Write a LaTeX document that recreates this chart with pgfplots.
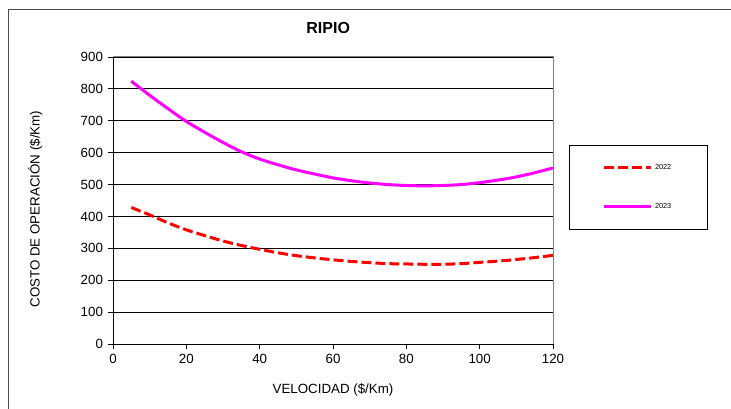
\documentclass[border=0pt]{standalone}
\usepackage{pgfplots}
\pgfplotsset{compat=1.18}
\usepackage{fontspec}
\setmainfont{Liberation Sans}
\definecolor{mag}{RGB}{255,0,255}
\definecolor{rd}{RGB}{255,0,0}
\begin{document}
\begin{tikzpicture}
\path[use as bounding box] (0pt,0pt) rectangle (548.25pt,-306.75pt);
\draw[black!70, line width=0.75pt] (6pt,-400pt) -- (6pt,-7.5pt) -- (600pt,-7.5pt);
\begin{axis}[
  at={(84.75pt,-258pt)}, anchor=south west,
  scale only axis, width=330pt, height=215.25pt,
  xmin=0, xmax=120, ymin=0, ymax=900,
  xtick={0,20,...,120}, ytick={0,100,...,900},
  ymajorgrids, grid style={black, line width=0.6pt},
  axis line style={black!50, line width=0.75pt},
  axis x line*=bottom, axis y line*=left,
  tick style={black, line width=0.6pt},
  tick align=outside, major tick length=4pt,
  xtick pos=bottom, ytick pos=left,
  /pgf/number format/assume math mode=true,
  ticklabel style={font=\fontsize{10}{12}\selectfont},
  every axis title shift=0pt,
  title={RIPIO}, title style={font=\fontsize{12}{14}\selectfont\bfseries, at={(axis description cs:0.489,1.101)}, anchor=center},
  xlabel={VELOCIDAD (\$/Km)}, xlabel style={font=\fontsize{10}{12}\selectfont, at={(axis description cs:0.5,-0.16)}, anchor=center},
  ylabel={COSTO DE OPERACIÓN (\$/Km)}, ylabel style={font=\fontsize{10}{12}\selectfont, at={(axis description cs:-0.177,0.47)}, anchor=center, rotate=0},
  legend style={at={(axis description cs:1.036,0.693)}, anchor=north west, draw=black, line width=0.75pt,
    font=\fontsize{5.5}{6.5}\selectfont, inner xsep=25pt, inner ysep=12pt, row sep=20pt,
    legend cell align=left},
  legend image code/.code={\draw[#1] (0pt,0pt) -- (35pt,0pt);},
  clip=false,
]
\addplot[rd, line width=2.25pt, dash pattern=on 7.5pt off 3pt, smooth] coordinates {
(5,428)(10,405)(15,380)(20,358)(25,340)(30,323)(35,309)(40,297)(45,286)(50,277)(55,270)(60,264)(65,259)(70,255)(75,252)(80,251)(85,250)(90,250)(95,252)(100,256)(105,260)(110,265)(115,271)(120,278)};
\addlegendentry{2022}
\addplot[mag, line width=2.25pt, smooth] coordinates {
(5,824)(10,780)(15,738)(20,698)(25,664)(30,632)(35,603)(40,580)(45,562)(50,546)(55,533)(60,521)(65,512)(70,505)(75,500)(80,497)(85,496)(90,497)(95,500)(100,506)(105,514)(110,524)(115,537)(120,552)};
\addlegendentry{2023}
\draw[black!50, line width=0.75pt] (axis cs:0,900) -- (axis cs:120,900) -- (axis cs:120,0);
\draw[black, line width=0.75pt] (axis cs:0,0) -- (axis cs:0,900);
\draw[black, line width=0.75pt] (axis cs:0,0) -- (axis cs:120,0);
\end{axis}
\end{tikzpicture}
\end{document}
